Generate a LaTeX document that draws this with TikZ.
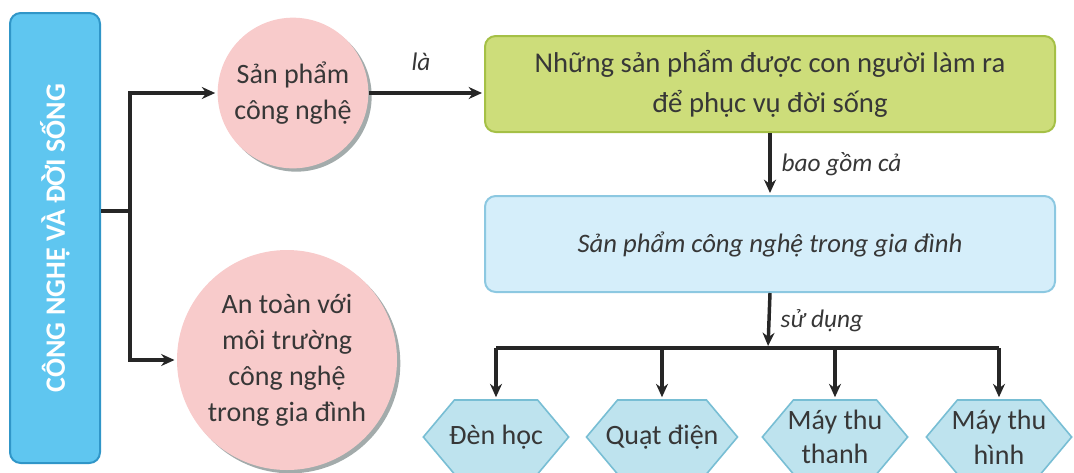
\documentclass[tikz,border=0pt]{standalone}
\usepackage{fontspec}
\setmainfont{Carlito}
\usetikzlibrary{shapes.symbols,arrows.meta}

\definecolor{skyfill}{RGB}{95,198,240}
\definecolor{skyline}{RGB}{48,150,200}
\definecolor{pinkfill}{RGB}{248,203,203}
\definecolor{shadegray}{RGB}{140,150,150}
\definecolor{limefill}{RGB}{205,221,122}
\definecolor{limeline}{RGB}{165,192,70}
\definecolor{icefill}{RGB}{213,238,250}
\definecolor{iceline}{RGB}{140,200,225}
\definecolor{hexfill}{RGB}{190,227,238}
\definecolor{hexline}{RGB}{120,190,212}
\definecolor{inkgray}{RGB}{55,55,55}

\tikzset{every picture/.style={line width=0.75pt}}
\tikzset{
  rootbox/.style={draw=skyline, fill=skyfill, line width=1.5pt, rounded corners=8pt,
    minimum width=67.5pt, minimum height=337.5pt},
  roottext/.style={text=white, font=\bfseries\fontsize{21}{25}\selectfont},
  bubble/.style={circle, fill=pinkfill, text=inkgray, align=center, inner sep=0pt,
    font=\fontsize{21}{27}\selectfont,
    preaction={fill=shadegray, fill opacity=0.8, transform canvas={xshift=2.5pt, yshift=-2.5pt}}},
  wide box/.style={rounded corners=8pt, line width=1.5pt, align=center, text=inkgray,
    minimum width=427.5pt, minimum height=72pt},
  hexbox/.style={signal, signal to=west and east, signal pointer angle=100,
    draw=hexline, fill=hexfill, line width=1.2pt, text=inkgray, align=center,
    inner xsep=-9pt, inner ysep=1pt,
    minimum width=109pt, minimum height=55.5pt, font=\fontsize{21}{26}\selectfont},
  wire/.style={line width=2.6pt, black!85},
  arw/.style={wire, -{Stealth[length=10pt,width=9pt]}, shorten >=1.5pt},
  lbl/.style={text=inkgray, font=\itshape\fontsize{19}{23}\selectfont}
}

\begin{document}
\begin{tikzpicture}[x=0.75pt,y=0.75pt,yscale=-1,xscale=1]
\useasboundingbox (0,0) rectangle (1074,472);

%Shape: Rectangle [root]
\node [rootbox] (root) at (55,238) {};
\node [roottext, rotate=90] (roottitle) at (root.center) {CÔNG NGHỆ VÀ ĐỜI SỐNG};

%Shape: Circle
\node [bubble, minimum size=113pt] (prod) at (293,93) {Sản phẩm\\công nghệ};
%Shape: Circle
\node [bubble, minimum size=165pt] (safe) at (287,360) {An toàn với\\môi trường\\công nghệ\\trong gia đình};

%Shape: Rectangle
\node [wide box, draw=limeline, fill=limefill, font=\fontsize{21.5}{30}\selectfont] (green) at (770,84)
  {Những sản phẩm được con người làm ra\\để phục vụ đời sống};
%Shape: Rectangle
\node [wide box, draw=iceline, fill=icefill, font=\itshape\fontsize{20}{24}\selectfont] (home) at (770,244)
  {Sản phẩm công nghệ trong gia đình};

%Shape: Hexagons
\node [hexbox] (lamp) at (496,437) {Đèn học};
\node [hexbox] (fan) at (662,437) {Quạt điện};
\node [hexbox] (radio) at (835,437) {Máy thu\\thanh};
\node [hexbox] (tv) at (999,437) {Máy thu\\hình};

%Straight Lines
\coordinate (split) at (130,211);
\coordinate (bar) at (768,348);
\draw [wire] (root.east |- split) -- (split);
\draw [arw] (split) |- (prod);
\draw [arw] (split) |- (safe);
\draw [arw] (prod) -- node [lbl, above=12pt, xshift=-4pt] {là} (green.west |- prod);
\draw [arw] (green.south) -- node [lbl, right=4pt] {bao gồm cả} (home.north);
\draw [arw] (home.south) -- node [lbl, right=4pt] {sử dụng} (bar);
\draw [wire] (lamp.north |- bar) -- (tv.north |- bar);
\foreach \item in {lamp,fan,radio,tv}
  \draw [arw] (\item.north |- bar) -- (\item.north);
\end{tikzpicture}
\end{document}
